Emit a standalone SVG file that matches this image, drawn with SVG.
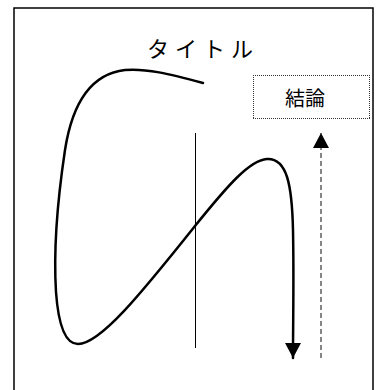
<svg xmlns="http://www.w3.org/2000/svg" width="379" height="390" viewBox="0 0 379 390">
  <style>
    .txt { font-family: "Liberation Serif", "Noto Sans CJK JP", serif; fill: #000; }
    .frame { fill: #fff; stroke: #000; stroke-width: 1.5; }
    .curve { fill: none; stroke: #000; stroke-width: 2.5; stroke-linecap: round; }
    .thin { fill: none; stroke: #000; stroke-width: 1; }
    .dash { fill: none; stroke: #444; stroke-width: 1.3; stroke-dasharray: 5 3; }
    .dotbox { fill: none; stroke: #333; stroke-width: 1; stroke-dasharray: 1 1; }
  </style>
  <defs>
    <marker id="ahSolid" markerUnits="userSpaceOnUse" markerWidth="16" markerHeight="16" viewBox="0 0 16 16" refX="15" refY="8" orient="auto">
      <path d="M0,0 L15,8 L0,16 Z" fill="#000"/>
    </marker>
    <marker id="ahDash" markerUnits="userSpaceOnUse" markerWidth="16" markerHeight="16" viewBox="0 0 16 16" refX="15" refY="8" orient="auto">
      <path d="M0,0 L15,8 L0,16 Z" fill="#000"/>
    </marker>
  </defs>
  <rect width="379" height="390" fill="#fff"/>
  <g id="frame">
    <rect class="frame" x="14" y="8" width="359" height="400"/>
  </g>
  <g id="title">
    <text class="txt" x="147" y="57" font-size="22" letter-spacing="6">タイトル</text>
  </g>
  <g id="conclusion">
    <path class="dotbox" d="M253,75.5 H370 M253,118.5 H370 M253.5,75 V119 M369.5,75 V119"/>
    <text class="txt" x="305" y="106" font-size="20" text-anchor="middle">結論</text>
  </g>
  <g id="connectors">
    <line class="thin" x1="195.5" y1="133" x2="195.5" y2="348"/>
    <path class="curve" d="M203,83 C170,74 145,68 125,70 C90,74 72,105 65,150 C56,210 54,260 56,292 C58,320 64,344 78,344 C100,344 140,295 195,226 C228,185 250,160 267,159 C287,158 292,185 293,230 C294,280 293,320 293,358" marker-end="url(#ahSolid)"/>
    <line class="dash" x1="321" y1="358" x2="321" y2="133" marker-end="url(#ahDash)"/>
  </g>
</svg>
